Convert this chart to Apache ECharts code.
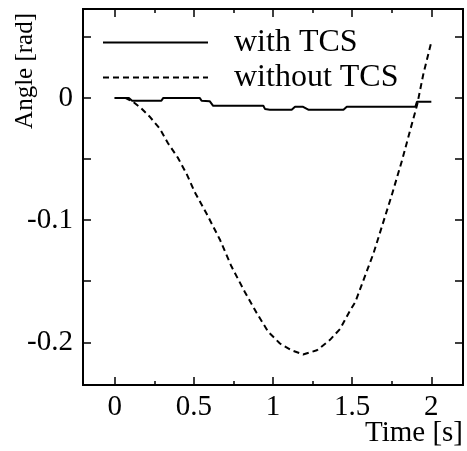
<!DOCTYPE html>
<html><head><meta charset="utf-8">
<script src="https://cdn.jsdelivr.net/npm/echarts@6/dist/echarts.min.js"></script>
<style>html,body{margin:0;padding:0;background:#fff}#c{width:467px;height:451px}</style>
</head><body><div id="c"></div>
<script>
// Data
const seriesNames = ['with TCS', 'without TCS'];
const timeWith  = [0, 0.09, 0.11, 0.295, 0.306, 0.538, 0.549, 0.6, 0.622, 0.939, 0.95, 0.98, 1.118, 1.139, 1.19, 1.223, 1.445, 1.466, 1.899, 1.909, 2.0];
const angleWith = [0, 0, -0.0022, -0.0022, 0, 0, -0.0022, -0.0025, -0.0063, -0.0063, -0.009, -0.0095, -0.0095, -0.0071, -0.0071, -0.0095, -0.0095, -0.0071, -0.0071, -0.003, -0.003];
const timeWithout  = [0, 0.07, 0.116, 0.169, 0.22, 0.285, 0.337, 0.40, 0.454, 0.506, 0.58, 0.665, 0.738, 0.823, 0.897, 0.97, 1.044, 1.118, 1.19, 1.277, 1.36, 1.424, 1.487, 1.52, 1.635, 1.75, 1.815, 1.867, 1.91, 1.95, 2.0];
const angleWithout = [0, 0, -0.003, -0.0085, -0.015, -0.025, -0.037, -0.049, -0.062, -0.077, -0.0945, -0.116, -0.138, -0.159, -0.176, -0.1915, -0.201, -0.2066, -0.21, -0.2066, -0.198, -0.189, -0.174, -0.167, -0.127, -0.0795, -0.051, -0.026, -0.0057, 0.020, 0.046];
const xMajorTicks = [0, 0.5, 1, 1.5, 2];
const xMinorTicks = [0.25, 0.75, 1.25, 1.75];
const yTicks = [-0.2, -0.15, -0.1, -0.05, 0, 0.05];
const yLabels = [-0.2, -0.1, 0];
const xName = 'Time [s]';
const yName = 'Angle [rad]';

const FONT = 'Liberation Serif, Times New Roman, serif';
const X_MIN = -0.2, X_MAX = 2.2, Y_MIN = -0.235, Y_MAX = 0.073;

function xAx(pos, ticks, len, withLabels) {
  return {
    type: 'value', position: pos, min: X_MIN, max: X_MAX,
    axisLine: { show: true, onZero: false, lineStyle: { color: '#000', width: 2 } },
    axisTick: { show: true, inside: true, length: len, customValues: ticks, lineStyle: { color: '#000', width: 1.5 } },
    axisLabel: withLabels ? { show: true, customValues: ticks, margin: 8, color: '#000', fontSize: 29, fontFamily: FONT } : { show: false },
    splitLine: { show: false },
    name: withLabels ? xName : '',
    nameLocation: 'end', nameGap: 0, nameMoveOverlap: false,
    nameTextStyle: { color: '#000', fontSize: 29, fontFamily: FONT, align: 'right', verticalAlign: 'top', padding: [34, 0, 0, 0] }
  };
}
function yAx(pos, withLabels) {
  return {
    type: 'value', position: pos, min: Y_MIN, max: Y_MAX,
    axisLine: { show: true, onZero: false, lineStyle: { color: '#000', width: 2 } },
    axisTick: { show: true, inside: true, length: 8, customValues: yTicks, lineStyle: { color: '#000', width: 1.5 } },
    axisLabel: withLabels ? { show: true, customValues: yLabels, margin: 10, color: '#000', fontSize: 29, fontFamily: FONT } : { show: false },
    splitLine: { show: false },
    name: withLabels ? yName : '',
    nameLocation: 'end', nameGap: -4, nameRotate: 90, nameMoveOverlap: false,
    nameTextStyle: { color: '#000', fontSize: 25, fontFamily: FONT, align: 'right', verticalAlign: 'bottom', padding: [0, 0, 45, 0] }
  };
}

const chart = echarts.init(document.getElementById('c'), null, { renderer: 'canvas' });
chart.setOption({
  animation: false,
  backgroundColor: '#fff',
  grid: { left: 83, right: 4, top: 9, bottom: 66, containLabel: false, outerBoundsMode: 'none' },
  legend: {
    orient: 'vertical', left: 97, top: 20, itemWidth: 105, itemHeight: 14, itemGap: 0,
    data: seriesNames,
    itemStyle: { opacity: 0 },
    textStyle: { color: '#000', fontSize: 32, fontFamily: FONT, lineHeight: 35, padding: [0, 0, 0, 21] }
  },
  xAxis: [xAx('bottom', xMajorTicks, 8, true), xAx('bottom', xMinorTicks, 4, false), xAx('top', xMajorTicks, 8, false), xAx('top', xMinorTicks, 4, false)],
  yAxis: [yAx('left', true), yAx('right', false)],
  series: [
    { name: seriesNames[0], type: 'line', xAxisIndex: 0, yAxisIndex: 0, symbol: 'none',
      data: timeWith.map((t, i) => [t, angleWith[i]]),
      lineStyle: { color: '#000', width: 2, type: 'solid' }, itemStyle: { color: '#000' } },
    { name: seriesNames[1], type: 'line', xAxisIndex: 0, yAxisIndex: 0, symbol: 'none',
      data: timeWithout.map((t, i) => [t, angleWithout[i]]),
      lineStyle: { color: '#000', width: 2, type: [6, 4] }, itemStyle: { color: '#000' } }
  ]
});
</script></body></html>
